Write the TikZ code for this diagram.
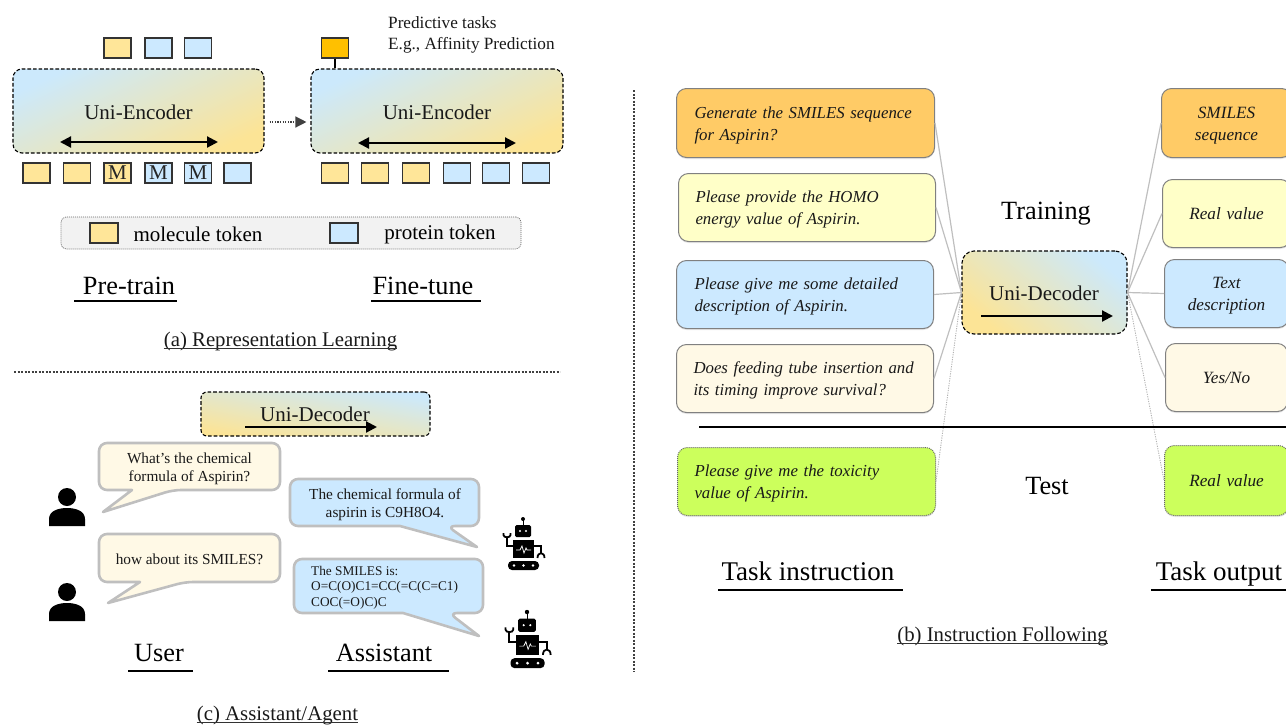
\documentclass[tikz,border=0pt]{standalone}
\usepackage{fontspec}
\setmainfont{Liberation Serif}
\usetikzlibrary{arrows.meta,shadows,calc}
\definecolor{tokY}{HTML}{FFE699}
\definecolor{tokB}{HTML}{CCE9FF}
\definecolor{gradB}{HTML}{CCE9FC}
\definecolor{gradY}{HTML}{FCE496}
\definecolor{oran}{HTML}{FFCB66}
\definecolor{paleY}{HTML}{FFFFC8}
\definecolor{cream}{HTML}{FFF9E6}
\definecolor{lime}{HTML}{CCFF5C}
\definecolor{gold}{HTML}{FFC000}
\newcommand{\upstrut}{\rule{0pt}{16pt}}
\tikzset{
  x=1pt,y=-1pt,
  tok/.style={draw=black!80,line width=1.2pt,minimum width=27pt,minimum height=20pt,inner sep=0pt,font=\fontsize{21}{21}\selectfont,text=black!85},
  tky/.style={tok,fill=tokY},
  tkb/.style={tok,fill=tokB},
  dashline/.style={draw=black,line width=1.1pt,dash pattern=on 3.6pt off 2pt},
  encbox/.style={dashline,rounded corners=9pt,inner sep=0pt,top color=gradB,bottom color=gradY,shading angle=25},
  decbox/.style={dashline,rounded corners=12pt,inner sep=0pt,top color=gradB,bottom color=gradY,shading angle=-40},
  lbl/.style={font=\fontsize{21}{21}\selectfont,text=black!90,inner sep=0pt},
  dbl/.style={{Triangle[length=11pt,width=11pt]}-{Triangle[length=11pt,width=11pt]},line width=2.2pt,black},
  sgl/.style={-{Triangle[length=11pt,width=11pt]},line width=2.2pt,black},
  task/.style={draw=black!50,line width=1pt,rounded corners=10pt,inner xsep=18pt,inner ysep=0pt,anchor=north west,align=left,
     font=\fontsize{16.8}{22}\selectfont\itshape,text=black!90,
     drop shadow={opacity=.18,shadow xshift=0pt,shadow yshift=-1.5pt}},
  outbox/.style={task,align=center,font=\fontsize{17.2}{22}\selectfont\itshape},
  testborder/.style={draw=black!60,dash pattern=on 1pt off 1pt},
  link/.style={draw=black!25,line width=1.2pt},
  dlink/.style={draw=black!30,line width=.9pt,dash pattern=on 1.2pt off 1.2pt},
  big/.style={font=\fontsize{26.3}{26}\selectfont,inner sep=0pt},
  captxt/.style={font=\fontsize{20.8}{20}\selectfont,inner sep=0pt,anchor=base,text=black!90},
  capline/.style={draw=black!80,line width=.8pt},
  rule/.style={draw=black,line width=1.2pt},
  bub/.style={draw=black!25,line width=2.6pt,rounded corners=8pt,line join=round},
  bubtext/.style={inner sep=0pt,align=center,text=black!90},
  divider/.style={black!75,line width=2.3pt,dash pattern=on 2.2pt off 1.3pt},
}
\newcommand{\person}[2]{%
  \fill[black] (#1,#2) circle (9);
  \fill[black] (#1-18,#2+29) -- (#1-18,#2+22) .. controls (#1-18,#2+14) and (#1-9,#2+11) .. (#1,#2+11)
     .. controls (#1+9,#2+11) and (#1+18,#2+14) .. (#1+18,#2+22) -- (#1+18,#2+29) -- cycle;
}
\newcommand{\robot}[3]{%
 \begin{scope}[shift={(#1,#2)},x=#3pt,y=-#3pt]
  \fill (0,0) circle (2);
  \draw[line width=1pt] (0,0) -- (0,6);
  \fill[rounded corners=1.5] (-8,6) rectangle (8,18);
  \fill[white] (-3,12) circle (1.1) (3,12) circle (1.1);
  \fill (-10,21) rectangle (11,39);
  \draw[white,line width=.7pt] (-7,31) -- (-3,31) -- (-1,27) -- (1,34) -- (3,29) -- (4,31) -- (8,31);
  \draw[line width=2pt] (-10,27) -- (-16,27) -- (-16,18);
  \draw[line width=1.8pt] (-19.5,14) -- (-19.5,16) .. controls (-19.5,19) and (-12.5,19) .. (-12.5,16) -- (-12.5,14);
  \draw[line width=2pt] (11,27) -- (18,27) -- (18,34);
  \draw[line width=1.8pt] (14.5,39) .. controls (14.5,32.5) and (21.5,32.5) .. (21.5,39);
  \fill[rounded corners=4] (-15,42) rectangle (16,51);
  \fill[white] (-9,46.5) circle (1.4) (0.5,46.5) circle (1.4) (10,46.5) circle (1.4);
 \end{scope}}
\begin{document}
\begin{tikzpicture}
\useasboundingbox (0,0) rectangle (1286,724);
% --- (a)
\node[tky] (t1) at (117.5,48) {};
\node[tkb] (t2) at (158.5,48) {};
\node[tkb] (t3) at (198,48) {};
\node[encbox,minimum width=251pt,minimum height=84pt] (enc1) at (138.5,111) {};
\node[lbl] (enc1t) at (138.5,112) {Uni-Encoder};
\coordinate (a1l) at (60,142); \coordinate (a1r) at (218,142);
\draw[dbl] (a1l) -- (a1r);
\node[tky] (b1) at (36.5,173) {};
\node[tky] (b2) at (77,173) {};
\node[tky] (b3) at (117.5,173) {M};
\node[tkb] (b4) at (158.5,173) {M};
\node[tkb] (b5) at (198,173) {M};
\node[tkb] (b6) at (237.5,173) {};
\node[encbox,minimum width=252pt,minimum height=84pt] (enc2) at (437,111) {};
\node[lbl] (enc2t) at (437,112) {Uni-Encoder};
\coordinate (a2l) at (358,143); \coordinate (a2r) at (516,143);
\draw[dbl] (a2l) -- (a2r);
\node[tok,fill=gold] (g) at (335,48) {};
\draw[line width=1.4pt] (g.south) -- (g.south |- enc2.north);
\node[tky] (c1) at (335,173) {};
\node[tky] (c2) at (375,173) {};
\node[tky] (c3) at (416,173) {};
\node[tkb] (c4) at (457,173) {};
\node[tkb] (c5) at (496,173) {};
\node[tkb] (c6) at (536,173) {};
\draw[black!75,line width=1.3pt,dash pattern=on 1.3pt off 1.3pt,-{Triangle[length=11pt,width=11pt]}] ([xshift=5pt,yshift=-11pt]enc1.east) -- ([xshift=-4pt,yshift=-11pt]enc2.west);
\node[anchor=north west,inner sep=0pt,align=left,font=\fontsize{17.2}{21}\selectfont,text=black!90] (pred) at (388,16) {Predictive tasks\\E.g., Affinity Prediction};
\node[draw=black!60,dash pattern=on 1pt off 1pt,line width=.7pt,fill=black!5,rounded corners=5pt,minimum width=460pt,minimum height=32pt] (legend) at (291,233) {};
\node[tky,minimum width=28pt] (ly) at (104,233) {};
\node[tkb,minimum width=28pt] (lb) at (344,233) {};
\node[font=\fontsize{21}{21}\selectfont,inner sep=0pt] (lyt) at (198,234) {molecule token};
\node[font=\fontsize{21}{21}\selectfont,inner sep=0pt] (lbt) at (440,234) {protein token};
\node[big] (pre) at (129,286) {Pre-train};
\draw[rule] (74,301) -- (177,301);
\node[big] (fine) at (423,286) {Fine-tune};
\draw[rule] (371,301) -- (481,301);
\node[captxt] (capa) at (280.5,346) {(a) Representation Learning};
\draw[capline] ([yshift=-2pt]capa.base west) -- ([yshift=-2pt]capa.base east);
\draw[divider] (14,372) -- (560,372);
\draw[divider] (634,90) -- (634,672);
% --- (c)
\node[encbox,rounded corners=6pt,minimum width=229pt,minimum height=44pt,shading angle=-10] (sdec) at (315.5,414) {};
\node[lbl] (sdect) at (315,414) {Uni-Decoder};
\coordinate (sa) at (245,427); \coordinate (sb) at (377,427);
\draw[sgl] (sa) -- (sb);
\draw[bub,fill=cream] (99,443) -- (280,443) -- (280,490) -- (173,490) [sharp corners] -- (103,512) -- (132,490) [rounded corners=8pt] -- (99,490) -- cycle;
\node[bubtext,font=\fontsize{15.3}{18}\selectfont] (u1) at (189.5,468.5) {What’s the chemical\\formula of Aspirin?};
\draw[bub,fill=cream] (99,534) -- (280,534) -- (280,582) -- (185,582) [sharp corners] -- (108,603) -- (140,582) [rounded corners=8pt] -- (99,582) -- cycle;
\node[bubtext,font=\fontsize{15.3}{18}\selectfont] (u2) at (189.5,559.5) {how about its SMILES?};
\draw[bub,fill=tokB] (290,479) -- (479,479) -- (479,526) -- (447,526) [sharp corners] -- (477,547) -- (400,526) [rounded corners=8pt] -- (290,526) -- cycle;
\node[bubtext,font=\fontsize{15.3}{18}\selectfont] (a1) at (385,504.5) {The chemical formula of\\aspirin is C9H8O4.};
\draw[bub,fill=tokB] (294,559) -- (483,559) -- (483,613) -- (449,613) [sharp corners] -- (479,636) -- (403,613) [rounded corners=8pt] -- (294,613) -- cycle;
\node[bubtext,align=left,anchor=north west,font=\fontsize{13.3}{15.5}\selectfont] (a2) at (311,566) {The SMILES is:\\O=C(O)C1=CC(=C(C=C1)\\COC(=O)C)C};
\person{67}{497}
\person{67}{592}
\robot{523}{519}{1}
\robot{527}{612}{1.1}
\node[big] (user) at (159,653) {User};
\draw[rule] (128,671) -- (193,671);
\node[big] (asst) at (384,653) {Assistant};
\draw[rule] (328,671) -- (449,671);
\node[captxt] (capc) at (277.5,720) {(c) Assistant/Agent};
\draw[capline] ([yshift=-2pt]capc.base west) -- ([yshift=-2pt]capc.base east);
% --- (b)
\node[decbox,minimum width=165pt,minimum height=83pt] (dec) at (1044.5,292.5) {};
\node[lbl] (dect) at (1044,293) {Uni-Decoder};
\coordinate (da) at (981,316); \coordinate (db) at (1113,316);
\draw[sgl] (da) -- (db);
\node[task,fill=oran,text width=222pt,minimum height=69pt] (l1) at (676,88) {\upstrut Generate the SMILES sequence\\for Aspirin?};
\node[task,fill=paleY,inner xsep=17pt,text width=223pt,minimum height=68pt] (l2) at (678,173) {\upstrut Please provide the HOMO\\energy value of Aspirin.};
\node[task,fill=tokB,text width=221pt,minimum height=68pt] (l3) at (676,260) {\upstrut Please give me some detailed\\description of Aspirin.};
\node[task,fill=cream,inner xsep=17pt,text width=223pt,minimum height=68pt] (l4) at (676,344) {\upstrut Does feeding tube insertion and\\its timing improve survival?};
\node[task,fill=lime,testborder,inner xsep=17pt,text width=224pt,minimum height=68pt] (l5) at (677,447) {\upstrut Please give me the toxicity\\value of Aspirin.};
\node[outbox,fill=oran,text width=94pt,minimum height=69pt] (r1) at (1161,88) {\upstrut SMILES\\sequence};
\node[outbox,fill=paleY,text width=92pt,minimum height=68pt] (r2) at (1162,179) {Real value};
\node[outbox,fill=tokB,text width=88pt,minimum height=68pt] (r3) at (1164,259) {\upstrut Text\\description};
\node[outbox,fill=cream,text width=86pt,minimum height=68pt] (r4) at (1165,343) {Yes/No};
\node[outbox,fill=lime,testborder,text width=88pt,minimum height=70pt] (r5) at (1164,445) {Real value};
\foreach \i in {1,2,3,4}{
  \draw[link] (l\i.east) -- (dec.west);
  \draw[link] (dec.east) -- (r\i.west);
}
\draw[dlink] (l5.east) -- (dec.west);
\draw[dlink] (dec.east) -- (r5.west);
\coordinate (ra) at (699,427); \coordinate (rb) at (1286,427);
\draw[line width=1.3pt] (ra) -- (rb);
\node[big] (train) at (1046,214) {Training};
\node[big] (test) at (1047,486) {Test};
\node[big,font=\fontsize{27}{27}\selectfont] (ti) at (808,571) {Task instruction};
\draw[rule] (718,590) -- (903,590);
\node[big,font=\fontsize{27}{27}\selectfont] (to) at (1219,574) {Task output};
\draw[rule] (1151,590) -- (1286,590);
\node[captxt] (capb) at (1002.5,641) {(b) Instruction Following};
\draw[capline] ([yshift=-2pt]capb.base west) -- ([yshift=-2pt]capb.base east);
\end{tikzpicture}
\end{document}
